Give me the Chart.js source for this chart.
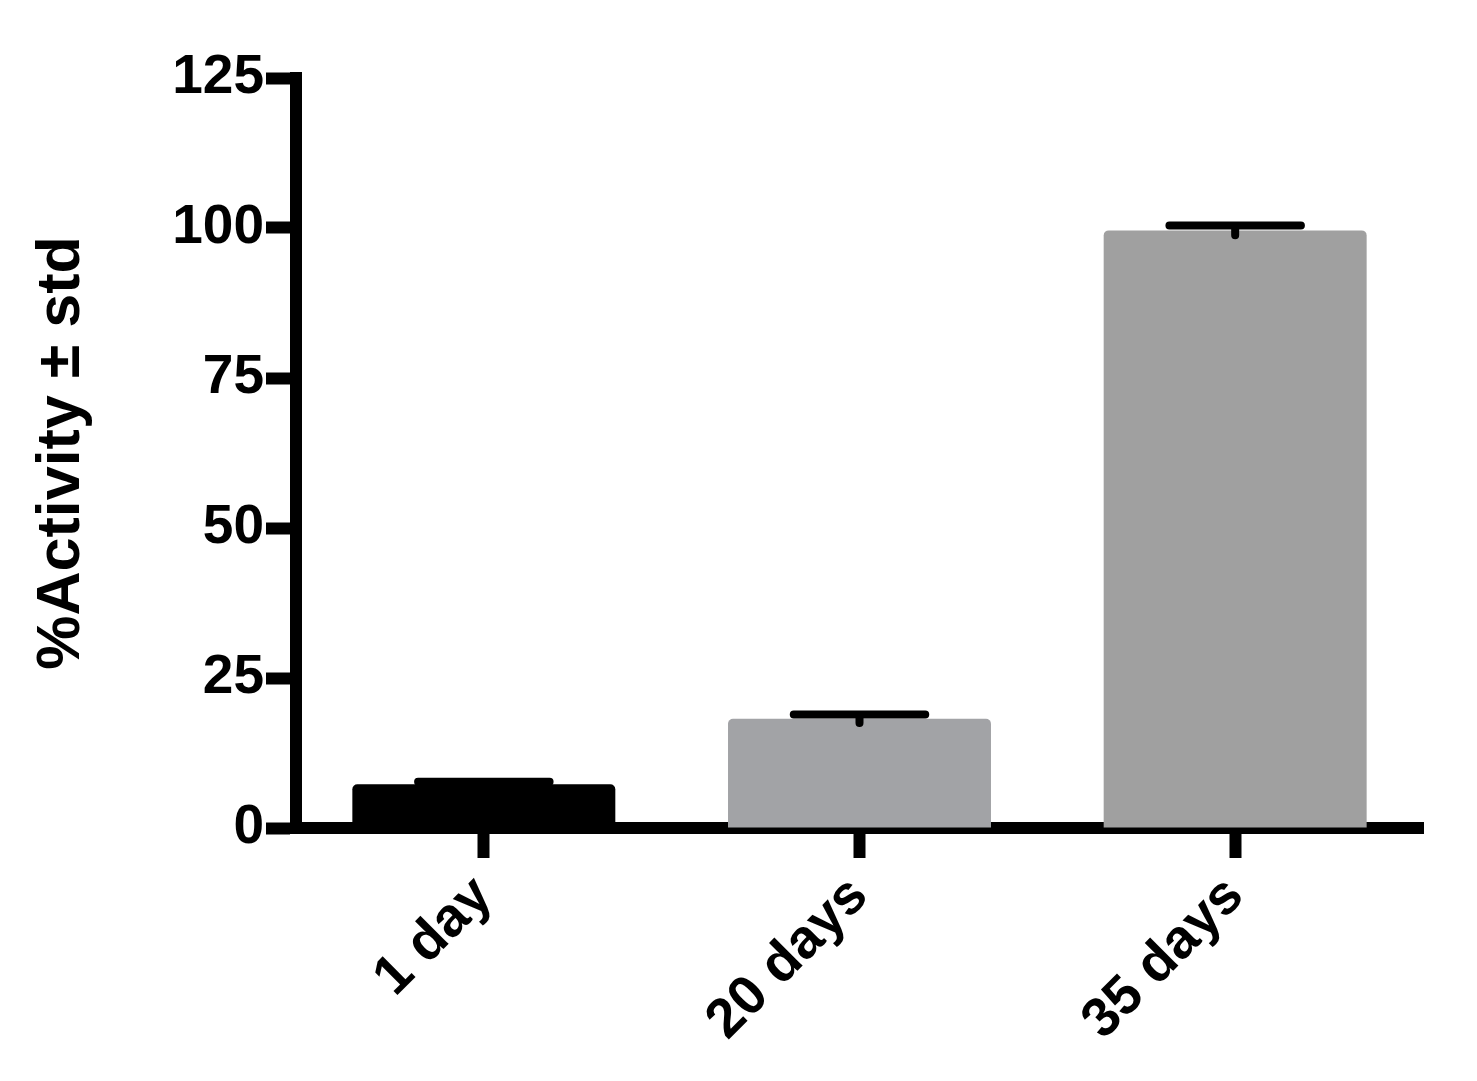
<!DOCTYPE html>
<html>
<head>
<meta charset="utf-8">
<script src="https://cdn.jsdelivr.net/npm/chart.js@4/dist/chart.umd.min.js"></script>
<style>
  html, body { margin: 0; padding: 0; background: #fff; }
  #wrap { width: 1477px; height: 1081px; }
</style>
</head>
<body>
<div id="wrap"><canvas id="bars"></canvas></div>
<script>
var categories = ['1 day', '20 days', '35 days'];
var activity = [7.3, 18.2, 99.6];
var activityStd = [0.4, 0.7, 0.8];
var barColors = ['#000000', '#a2a3a6', '#a0a0a0'];
var yTicks = [0, 25, 50, 75, 100, 125];

// error bars: line from mean-sd to mean+sd, cap on top only
var errorBars = {
    id: 'errorBars',
    afterDatasetsDraw: function (chart) {
        var ctx = chart.ctx;
        var y = chart.scales.y;
        var meta = chart.getDatasetMeta(0);
        ctx.save();
        ctx.strokeStyle = '#000';
        ctx.lineWidth = 8;
        ctx.lineCap = 'round';
        meta.data.forEach(function (bar, i) {
            var top = y.getPixelForValue(activity[i] + activityStd[i]);
            var bottom = y.getPixelForValue(activity[i] - activityStd[i]);
            var half = bar.width / 4;
            ctx.beginPath();
            ctx.moveTo(bar.x, bottom);
            ctx.lineTo(bar.x, top);
            ctx.moveTo(bar.x - half, top);
            ctx.lineTo(bar.x + half, top);
            ctx.stroke();
        });
        ctx.restore();
    }
};

var ctx = document.getElementById('bars').getContext('2d');
var myChart = new Chart(ctx, {
    type: 'bar',
    data: {
        labels: categories,
        datasets: [{
            data: activity,
            backgroundColor: barColors,
            borderWidth: 0,
            borderRadius: { topLeft: 5, topRight: 5, bottomLeft: 0, bottomRight: 0 },
            borderSkipped: 'start',
            barPercentage: 0.7,
            categoryPercentage: 1.0
        }]
    },
    options: {
        responsive: true,
        maintainAspectRatio: false,
        animation: false,
        layout: { padding: { top: 78, right: 54, left: 0, bottom: 0 } },
        plugins: {
            legend: { display: false },
            tooltip: { enabled: false }
        },
        scales: {
            x: {
                grid: {
                    offset: false,
                    drawOnChartArea: false,
                    tickLength: 30,
                    tickWidth: 12,
                    color: '#000'
                },
                border: { display: true, width: 12, color: '#000' },
                ticks: {
                    color: '#000',
                    minRotation: 45,
                    maxRotation: 45,
                    padding: 6,
                    font: { family: 'Liberation Sans', weight: 'bold', size: 55 }
                },
                afterFit: function (scale) { scale.height = 253; }
            },
            y: {
                min: 0,
                max: 125,
                afterBuildTicks: function (scale) {
                    scale.ticks = yTicks.map(function (v) { return { value: v }; });
                },
                grid: {
                    drawOnChartArea: false,
                    tickLength: 30,
                    tickWidth: 12,
                    color: '#000'
                },
                border: { display: true, width: 12, color: '#000' },
                ticks: {
                    color: '#000',
                    padding: 2,
                    font: { family: 'Liberation Sans', weight: 'bold', size: 55 }
                },
                title: {
                    display: true,
                    text: '%Activity \u00b1 std',
                    color: '#000',
                    padding: { top: 26, bottom: 0 },
                    font: { family: 'Liberation Sans', weight: 'bold', size: 61 }
                },
                afterFit: function (scale) { scale.width = 296; }
            }
        }
    },
    plugins: [errorBars]
});
</script>
</body>
</html>
